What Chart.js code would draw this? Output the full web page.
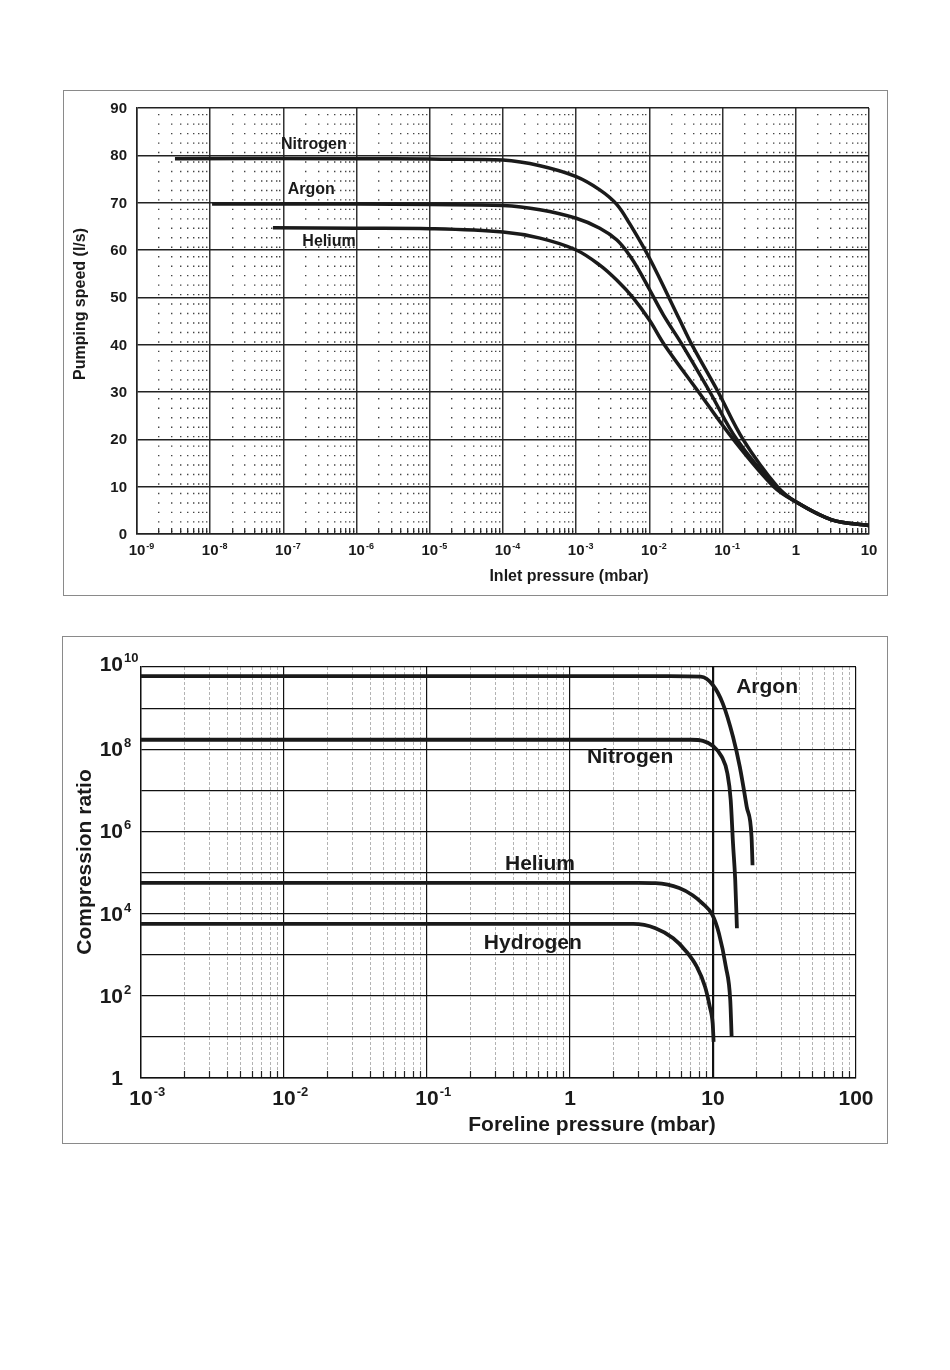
<!DOCTYPE html>
<html>
<head>
<meta charset="utf-8">
<script src="https://cdn.jsdelivr.net/npm/chart.js@4.4.1/dist/chart.umd.min.js"></script>
<style>
  body { margin: 0; background: #fff; width: 950px; height: 1370px; position: relative; }
  .frame { position: absolute; border: 1.5px solid #8a8a8a; box-sizing: border-box; }
  .holder { position: absolute; }
</style>
</head>
<body>
<div class="frame" style="left:63px;top:90px;width:825px;height:506px"></div>
<div class="holder" style="left:63px;top:90px;width:825px;height:506px"><canvas id="speedChart"></canvas></div>
<div class="frame" style="left:62px;top:636px;width:826px;height:508px"></div>
<div class="holder" style="left:62px;top:636px;width:826px;height:508px"><canvas id="ratioChart"></canvas></div>

<script>
// ---- Pumping speed vs inlet pressure (mbar, l/s) ----
const n2Pressure = [3.3e-9, 1e-6, 1e-5, 1e-4, 3.2e-4, 1e-3, 2.1e-3, 3.6e-3, 5.4e-3, 1e-2, 2.6e-2, 3.8e-2, 8.7e-2, 0.19, 0.56, 1, 3.1, 10];
const n2Speed    = [79.3, 79.3, 79.2, 79.0, 77.8, 75.5, 72.7, 69.6, 65.5, 58.3, 45.2, 40, 30, 20, 10, 6.8, 3.0, 1.8];
const arPressure = [1.06e-8, 1e-6, 1e-5, 1e-4, 3.2e-4, 1e-3, 2.1e-3, 3.6e-3, 5.4e-3, 7.4e-3, 1e-2, 1.55e-2, 2.8e-2, 6.7e-2, 0.156, 0.53, 1, 3.1, 10];
const arSpeed    = [69.7, 69.7, 69.6, 69.4, 68.5, 66.7, 64.6, 62.1, 58.8, 55.4, 51.7, 46.3, 40, 30, 20, 10, 6.8, 3.0, 1.8];
const hePressure = [7.2e-8, 1e-6, 1e-5, 1e-4, 3.2e-4, 1e-3, 2.1e-3, 3.6e-3, 6.0e-3, 1e-2, 1.6e-2, 4.7e-2, 0.14, 0.5, 1, 3.1, 10];
const heSpeed    = [64.7, 64.6, 64.5, 63.8, 62.5, 60, 56.8, 53.6, 49.9, 45.2, 40, 30, 20, 10, 6.8, 3.0, 1.8];

const speedXTicks = [1e-9, 1e-8, 1e-7, 1e-6, 1e-5, 1e-4, 1e-3, 1e-2, 1e-1, 1, 10];
const speedYTicks = [0, 10, 20, 30, 40, 50, 60, 70, 80, 90];
const speedLabels = [
  { text: 'Nitrogen', p: 2.6e-7, v: 82.2 },
  { text: 'Argon',    p: 2.4e-7, v: 72.7 },
  { text: 'Helium',   p: 4.2e-7, v: 61.7 }
];

// ---- Compression ratio vs foreline pressure (mbar) ----
const arForeline = [1e-3, 1, 5, 8.2, 10, 11.7, 13.8, 15.4, 17.2, 18.6, 18.9];
const arRatio    = [6.0e9, 6.0e9, 6.0e9, 5.8e9, 3.6e9, 1.3e9, 2.0e8, 3.7e7, 4.0e6, 7.4e5, 1.5e5];
const n2Foreline = [1e-3, 1, 5, 7, 8.5, 10, 11.5, 12.6, 13.3, 13.8, 14.3, 14.7];
const n2Ratio    = [1.7e8, 1.7e8, 1.7e8, 1.7e8, 1.6e8, 1.2e8, 6.6e7, 2.6e7, 5.8e6, 5.1e5, 6.6e4, 4.4e3];
const heForeline = [1e-3, 1, 3, 3.96, 5.8, 7.2, 8.4, 9.9, 11, 12.3, 13.2, 13.5];
const heRatio    = [5.6e4, 5.6e4, 5.6e4, 5.5e4, 4.2e4, 2.8e4, 1.8e4, 9.3e3, 3.3e3, 510, 79, 10];
const h2Foreline = [1e-3, 1, 2.77, 3.96, 5.27, 6.5, 7.7, 8.8, 9.5, 9.95, 10.1];
const h2Ratio    = [5.6e3, 5.6e3, 5.6e3, 4.4e3, 2.5e3, 1.2e3, 510, 166, 54, 21, 7.6];

const ratioXTicks = [1e-3, 1e-2, 1e-1, 1, 10, 100];
const ratioYTicks = [1, 1e1, 1e2, 1e3, 1e4, 1e5, 1e6, 1e7, 1e8, 1e9, 1e10];
const ratioYLabelled = [1, 1e2, 1e4, 1e6, 1e8, 1e10];
const ratioLabels = [
  { text: 'Argon',    p: 23.9, v: 3.2e9 },
  { text: 'Nitrogen', p: 2.63, v: 6.5e7 },
  { text: 'Helium',   p: 0.617, v: 1.6e5 },
  { text: 'Hydrogen', p: 0.55, v: 1.9e3 }
];

const FONT = '"Liberation Sans", Arial, Helvetica, sans-serif';
const INK = '#1a1a1a';

function points(xs, ys) {
  return xs.map((x, i) => ({ x: x, y: ys[i] }));
}

function minorTicks(majors) {
  const out = [];
  for (let i = 0; i < majors.length - 1; i++) {
    for (let m = 2; m <= 9; m++) out.push(majors[i] * m);
  }
  return out;
}

function setTicks(values) {
  return scale => { scale.ticks = values.map(v => ({ value: v })); };
}

function drawPow(ctx, base, sup, x, y, size, supSize, raise, align) {
  ctx.font = `bold ${size}px ${FONT}`;
  ctx.textAlign = 'left';
  ctx.textBaseline = 'alphabetic';
  const bw = ctx.measureText(base).width;
  const left = align === 'center' ? x - bw / 2 : x - bw;
  ctx.fillText(base, left, y);
  if (sup) {
    ctx.font = `bold ${supSize}px ${FONT}`;
    ctx.fillText(sup, left + bw + 1, y - raise);
  }
}

function xParts(v) {
  const e = Math.round(Math.log10(v));
  if (e === 0) return ['1', ''];
  if (e === 1) return ['10', ''];
  if (e === 2) return ['100', ''];
  return ['10', String(e)];
}

function drawRotated(ctx, text, x, y, size) {
  ctx.save();
  ctx.translate(x, y);
  ctx.rotate(-Math.PI / 2);
  ctx.font = `bold ${size}px ${FONT}`;
  ctx.textAlign = 'center';
  ctx.textBaseline = 'middle';
  ctx.fillText(text, 0, 0);
  ctx.restore();
}

function lineSet(data, width, smooth) {
  const ds = {
    data: data,
    borderColor: INK,
    borderWidth: width,
    pointRadius: 0,
    fill: false
  };
  if (smooth === 'monotone') ds.cubicInterpolationMode = 'monotone';
  else ds.tension = 0.35;
  return ds;
}

// Pumping speed chart
const speedText = {
  id: 'speedText',
  afterDraw(chart) {
    const ctx = chart.ctx;
    const xs = chart.scales.x, ys = chart.scales.y;
    ctx.save();
    ctx.fillStyle = INK;
    speedXTicks.forEach(v => {
      const [b, s] = xParts(v);
      drawPow(ctx, b, s, xs.getPixelForValue(v), 465, 15, 9, 6, 'center');
    });
    speedYTicks.forEach(v => {
      drawPow(ctx, String(v), '', 64, ys.getPixelForValue(v) + 5, 15, 9, 0, 'right');
    });
    drawRotated(ctx, 'Pumping speed (l/s)', 18, 214, 16);
    ctx.font = `bold 16px ${FONT}`;
    ctx.textAlign = 'center';
    ctx.textBaseline = 'middle';
    ctx.fillText('Inlet pressure (mbar)', 506, 487);
    speedLabels.forEach(l => {
      ctx.fillText(l.text, xs.getPixelForValue(l.p), ys.getPixelForValue(l.v));
    });
    ctx.restore();
  }
};

new Chart(document.getElementById('speedChart'), {
  type: 'line',
  data: {
    datasets: [
      lineSet(points(n2Pressure, n2Speed), 3.5),
      lineSet(points(arPressure, arSpeed), 3.5),
      lineSet(points(hePressure, heSpeed), 3.5)
    ]
  },
  options: {
    responsive: true,
    maintainAspectRatio: false,
    animation: false,
    layout: { padding: { left: 74, top: 18, right: 19, bottom: 62 } },
    plugins: { legend: { display: false }, tooltip: { enabled: false } },
    scales: {
      x: {
        type: 'logarithmic', min: 1e-9, max: 10,
        afterBuildTicks: setTicks(speedXTicks),
        afterFit: s => { s.height = 0; },
        ticks: { display: false },
        grid: { color: '#333', lineWidth: 1.5, drawTicks: false },
        border: { color: '#222', width: 1.5 }
      },
      xMinor: {
        type: 'logarithmic', min: 1e-9, max: 10, position: 'bottom',
        afterBuildTicks: setTicks(minorTicks(speedXTicks)),
        afterFit: s => { s.height = 0; },
        ticks: { display: false },
        grid: {
          color: '#444', lineWidth: 1.4, borderDash: [1.4, 8.07], borderDashOffset: 3.5,
          drawTicks: true, tickLength: -6, tickColor: '#222', tickWidth: 1.2, tickBorderDash: []
        },
        border: { display: false, dash: [1.4, 8.07], dashOffset: 3.5 }
      },
      y: {
        type: 'linear', min: 0, max: 90,
        afterBuildTicks: setTicks(speedYTicks),
        afterFit: s => { s.width = 0; },
        ticks: { display: false },
        grid: { color: '#222', lineWidth: 1.5, drawTicks: false },
        border: { color: '#222', width: 1.5 }
      }
    }
  },
  plugins: [speedText]
});

// Compression ratio chart
const ratioText = {
  id: 'ratioText',
  afterDraw(chart) {
    const ctx = chart.ctx;
    const xs = chart.scales.x, ys = chart.scales.y;
    ctx.save();
    ctx.fillStyle = INK;
    ratioXTicks.forEach(v => {
      const [b, s] = xParts(v);
      drawPow(ctx, b, s, xs.getPixelForValue(v), 469, 21, 13, 9, 'center');
    });
    ratioYLabelled.forEach(v => {
      const e = Math.round(Math.log10(v));
      const lift = e === 10 ? 3 : 0;
      drawPow(ctx, e === 0 ? '1' : '10', e === 0 ? '' : String(e), 61, ys.getPixelForValue(v) + 7 - lift, 21, 13, 9, 'right');
    });
    drawRotated(ctx, 'Compression ratio', 23, 226, 21);
    ctx.font = `bold 21px ${FONT}`;
    ctx.textAlign = 'center';
    ctx.textBaseline = 'middle';
    ctx.fillText('Foreline pressure (mbar)', 530, 489);
    ratioLabels.forEach(l => {
      ctx.fillText(l.text, xs.getPixelForValue(l.p), ys.getPixelForValue(l.v));
    });
    ctx.restore();
  }
};

new Chart(document.getElementById('ratioChart'), {
  type: 'line',
  data: {
    datasets: [
      lineSet(points(arForeline, arRatio), 3.8, 'monotone'),
      lineSet(points(n2Foreline, n2Ratio), 3.8, 'monotone'),
      lineSet(points(heForeline, heRatio), 3.8, 'monotone'),
      lineSet(points(h2Foreline, h2Ratio), 3.8, 'monotone')
    ]
  },
  options: {
    responsive: true,
    maintainAspectRatio: false,
    animation: false,
    layout: { padding: { left: 79, top: 31, right: 32, bottom: 66 } },
    plugins: { legend: { display: false }, tooltip: { enabled: false } },
    scales: {
      x: {
        type: 'logarithmic', min: 1e-3, max: 100,
        afterBuildTicks: setTicks(ratioXTicks),
        afterFit: s => { s.height = 0; },
        ticks: { display: false },
        grid: {
          color: '#111', drawTicks: false,
          lineWidth: c => (c.tick && c.tick.value === 10 ? 2.2 : 1.2)
        },
        border: { color: '#111', width: 1.4 }
      },
      xMinor: {
        type: 'logarithmic', min: 1e-3, max: 100, position: 'bottom',
        afterBuildTicks: setTicks(minorTicks(ratioXTicks)),
        afterFit: s => { s.height = 0; },
        ticks: { display: false },
        grid: {
          color: '#a0a0a0', lineWidth: 0.8, borderDash: [3, 2],
          drawTicks: true, tickLength: -7, tickColor: '#222', tickWidth: 1.2, tickBorderDash: []
        },
        border: { display: false, dash: [3, 2] }
      },
      y: {
        type: 'logarithmic', min: 1, max: 1e10,
        afterBuildTicks: setTicks(ratioYTicks),
        afterFit: s => { s.width = 0; },
        ticks: { display: false },
        grid: { color: '#111', lineWidth: 1.2, drawTicks: false },
        border: { color: '#111', width: 1.4 }
      }
    }
  },
  plugins: [ratioText]
});
</script>
</body>
</html>
